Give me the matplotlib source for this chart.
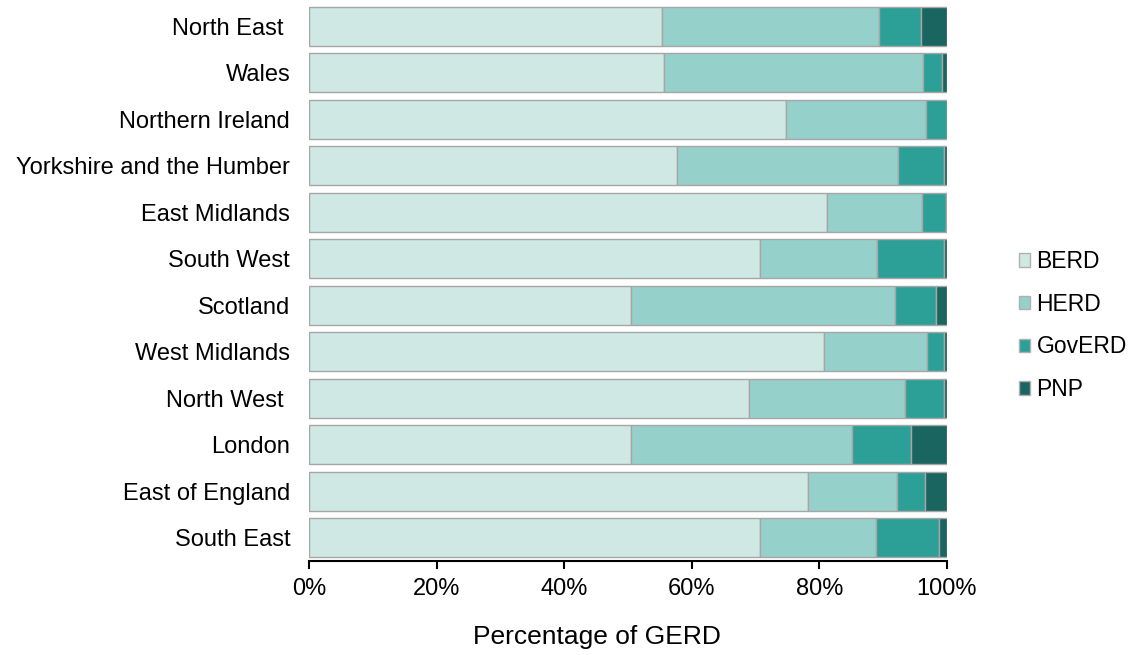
import numpy as np
import matplotlib
matplotlib.use("Agg")
import matplotlib.pyplot as plt
from matplotlib.ticker import PercentFormatter
from matplotlib.patches import Patch

plt.rcParams['font.family'] = ['Liberation Sans', 'DejaVu Sans']

# regions, top to bottom as in the chart
regions = ["North East ", "Wales", "Northern Ireland", "Yorkshire and the Humber",
           "East Midlands", "South West", "Scotland", "West Midlands",
           "North West ", "London", "East of England", "South East"]

# shares of GERD (%)
berd = [55.3, 55.6, 74.8, 57.7, 81.2, 70.7, 50.5, 80.8, 69.0, 50.5, 78.2, 70.7]
herd = [34.0, 40.7, 21.9, 34.6, 14.9, 18.4, 41.4, 16.1, 24.5, 34.6, 13.9, 18.2]
goverd = [6.6, 3.0, 3.3, 7.3, 3.7, 10.4, 6.4, 2.6, 6.0, 9.2, 4.5, 9.8]
pnp = [4.1, 0.7, 0.0, 0.4, 0.2, 0.5, 1.7, 0.5, 0.5, 5.7, 3.4, 1.3]

series = ["BERD", "HERD", "GovERD", "PNP"]
colors = ["#cfe8e4", "#96d0ca", "#2ca096", "#1b6560"]

fig = plt.figure(figsize=(11.33, 6.55), dpi=100)
ax = fig.add_axes([0.2727, 0.1435, 0.5631, 0.852])

y = np.arange(len(regions))[::-1]
left = np.zeros(len(regions))
for name, vals, c in zip(series, [berd, herd, goverd, pnp], colors):
    vals = np.array(vals)
    ax.barh(y, vals, left=left, height=0.84, color=c, edgecolor="#a6a6a6",
            linewidth=1.0, label=name)
    left = left + vals

ax.set_xlim(0, 100)
ax.set_ylim(-0.5, len(regions) - 0.5)
ax.set_yticks(y)
ax.set_yticklabels(regions, fontsize=17)
ax.xaxis.set_major_formatter(PercentFormatter(decimals=0))
ax.set_xticks(np.arange(0, 101, 20))
ax.tick_params(axis="x", labelsize=17, length=6, width=1.5, direction="out", pad=6)
ax.tick_params(axis="y", length=0, pad=13.5)
for s in ["top", "right", "left"]:
    ax.spines[s].set_visible(False)
ax.spines["bottom"].set_linewidth(1.5)
ax.set_xlabel("Percentage of GERD", fontsize=19, va="center")
ax.xaxis.set_label_coords(0.452, -0.136)

handles = [Patch(facecolor=c, edgecolor="#b0b0b0", label=n) for n, c in zip(series, colors)]
fig.legend(handles=handles, loc="center left", bbox_to_anchor=(0.899, 0.503),
           frameon=False, fontsize=16.5, handlelength=0.52, handleheight=0.52,
           handletextpad=0.26, labelspacing=0.86, borderpad=0, borderaxespad=0)

fig.savefig("out.png", dpi=100)
